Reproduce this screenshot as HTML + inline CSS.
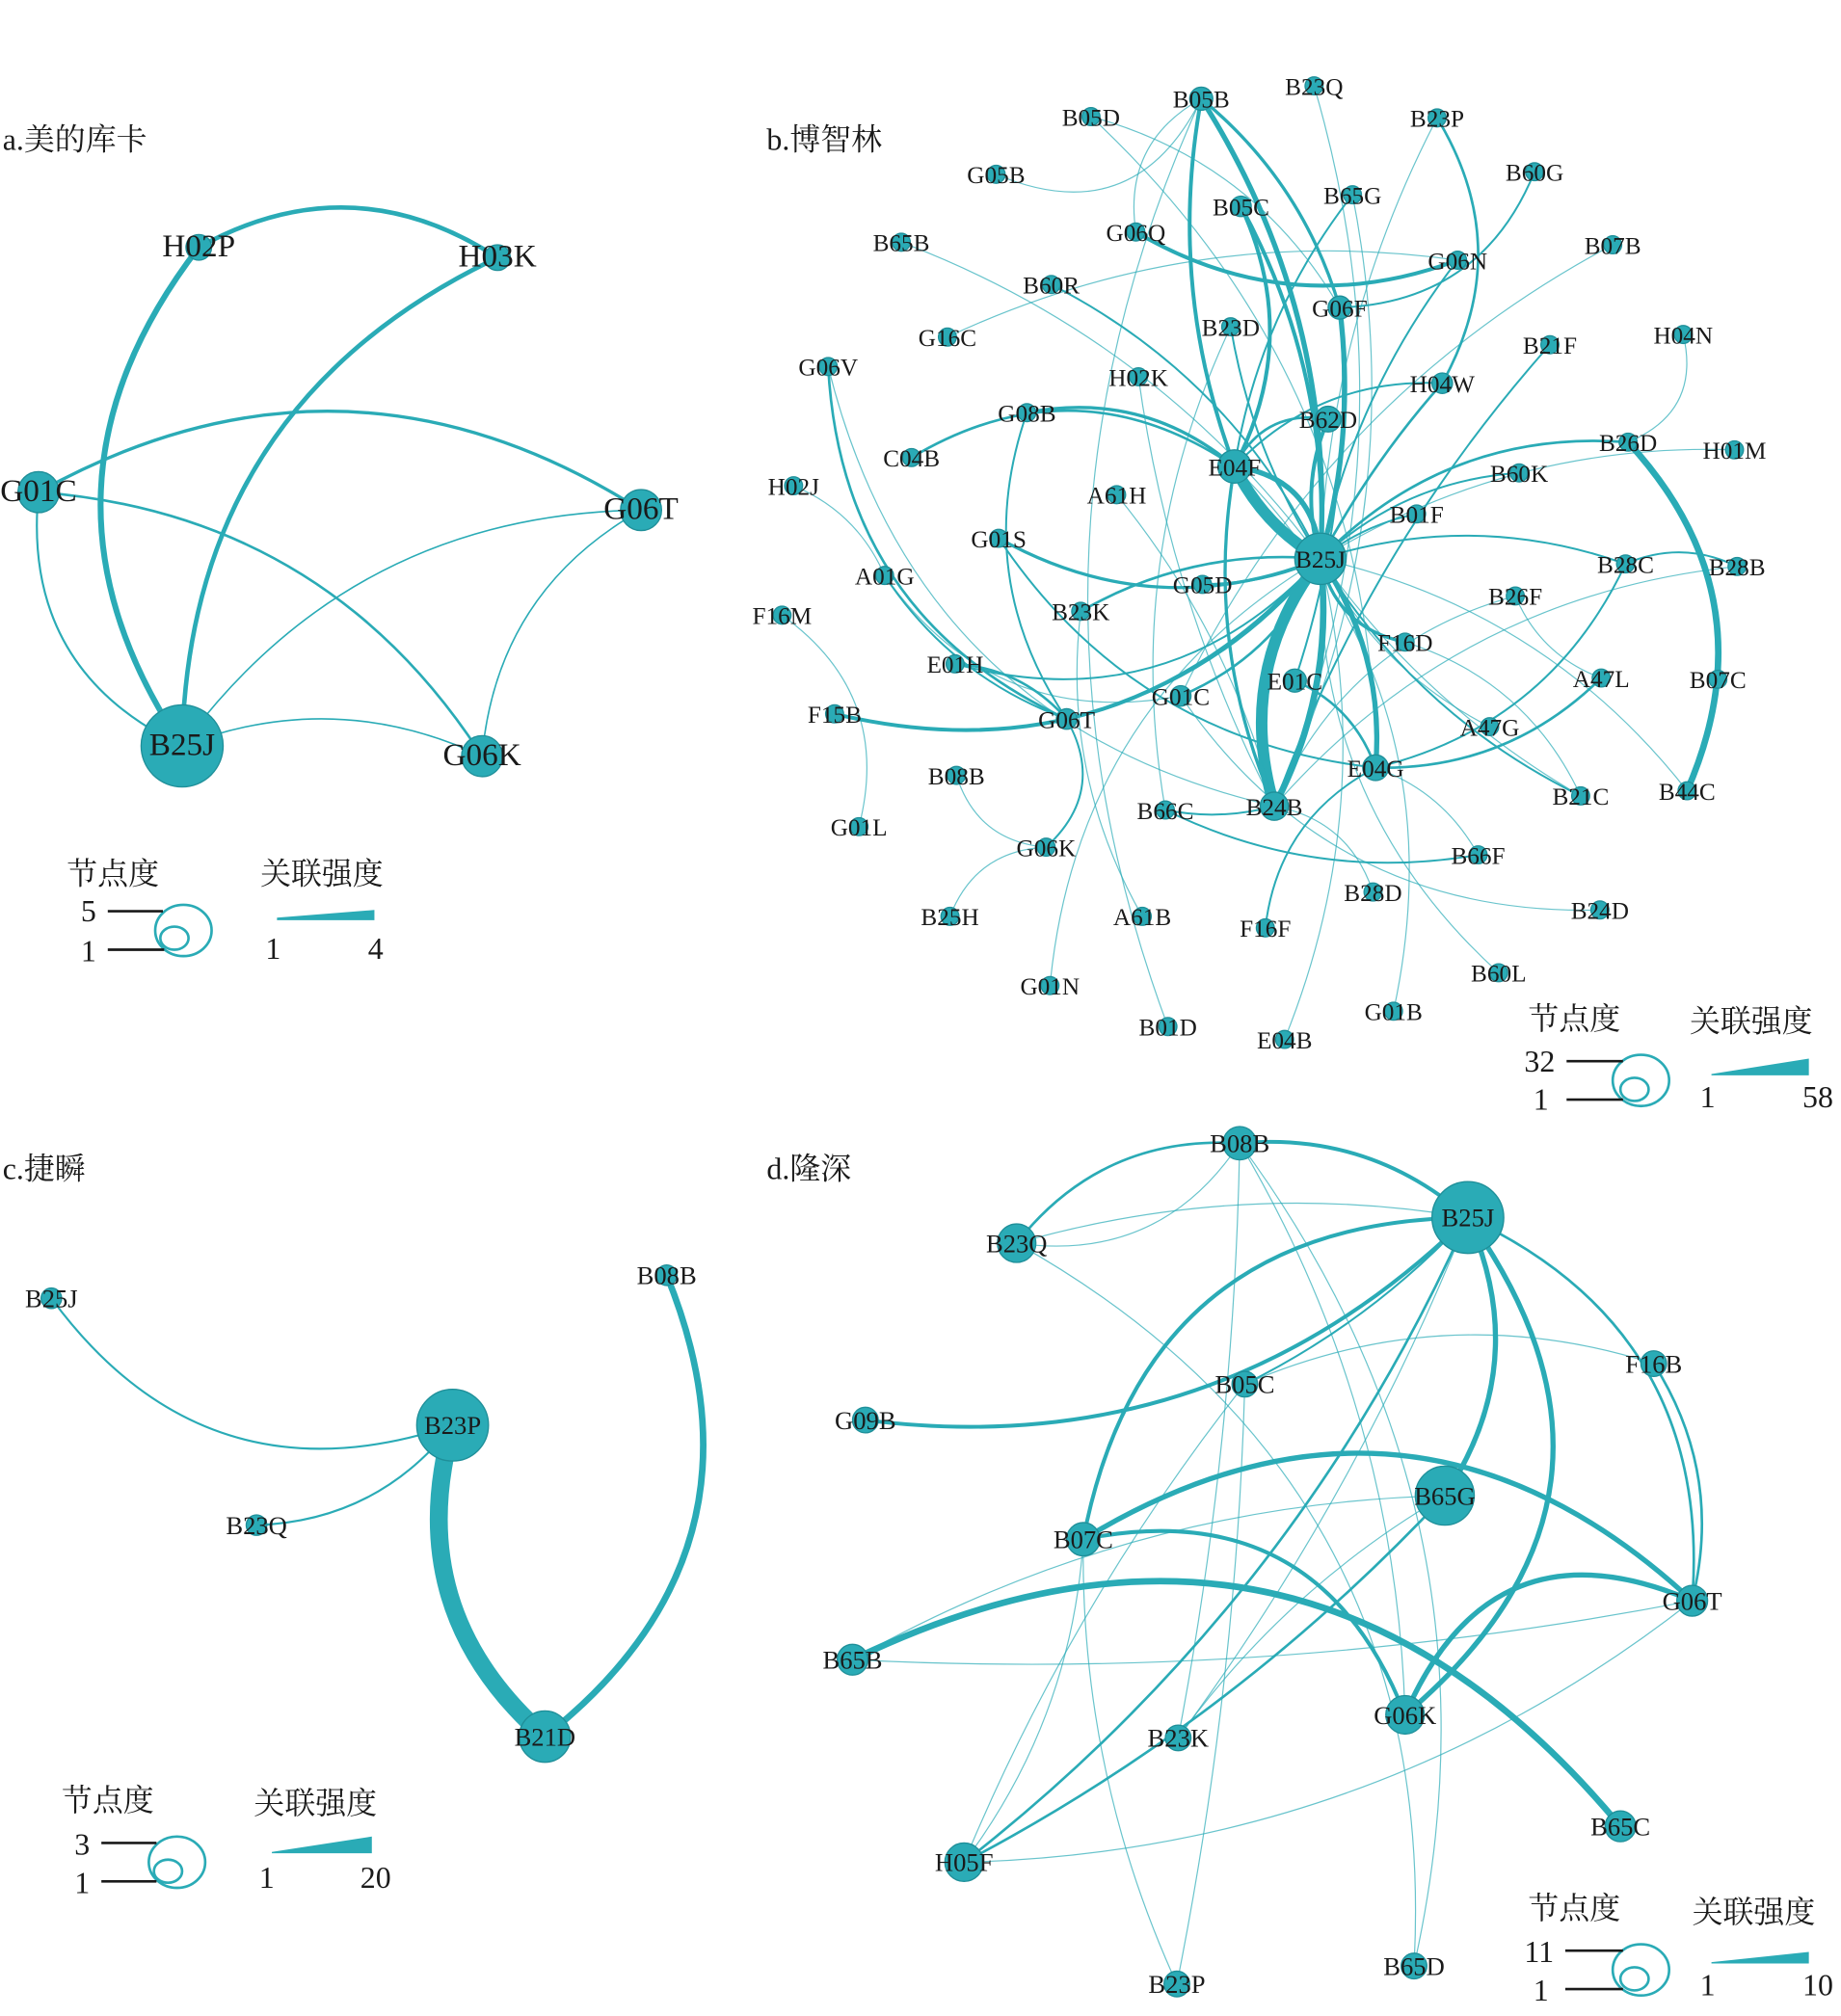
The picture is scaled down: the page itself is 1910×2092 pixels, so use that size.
<!DOCTYPE html>
<html><head><meta charset="utf-8">
<style>
html,body{margin:0;padding:0;background:#fff;}
svg{display:block;}
text{font-family:"Liberation Serif","Noto Serif CJK SC",serif;fill:#1a1a1a;}
.a text.n{font-size:25px;text-anchor:middle;}
.b text.n{font-size:19px;text-anchor:middle;}
.c text.n,.d text.n{font-size:20px;text-anchor:middle;}
.t{font-size:24px;}
.lg{font-size:24px;}
</style></head><body>
<svg id="S" width="1910" height="2092" viewBox="0 0 1436 1573" xmlns="http://www.w3.org/2000/svg">
<g id="E"></g>
<g id="N"></g>
<text class="t" x="2" y="117">a.美的库卡</text>
<text class="t" x="598" y="117">b.博智林</text>
<text class="t" x="2" y="920">c.捷瞬</text>
<text class="t" x="598" y="920">d.隆深</text>

<g class="a" id="a">
<text class="n" x="155" y="200" data-r="10">H02P</text>
<text class="n" x="388" y="208" data-r="10">H03K</text>
<text class="n" x="30" y="391" data-r="16">G01C</text>
<text class="n" x="500" y="405" data-r="16">G06T</text>
<text class="n" x="142" y="589" data-r="32">B25J</text>
<text class="n" x="376" y="597" data-r="16">G06K</text>
</g>

<g class="b" id="b">
<text class="n" x="851" y="98">B05D</text>
<text class="n" x="937" y="84" data-r="9">B05B</text>
<text class="n" x="1025" y="74">B23Q</text>
<text class="n" x="1121" y="99">B23P</text>
<text class="n" x="777" y="143">G05B</text>
<text class="n" x="1197" y="141">B60G</text>
<text class="n" x="968" y="168" data-r="8">B05C</text>
<text class="n" x="1055" y="159">B65G</text>
<text class="n" x="703" y="196">B65B</text>
<text class="n" x="886" y="188">G06Q</text>
<text class="n" x="1258" y="198">B07B</text>
<text class="n" x="1137" y="210">G06N</text>
<text class="n" x="820" y="229">B60R</text>
<text class="n" x="1045" y="247" data-r="9">G06F</text>
<text class="n" x="960" y="262">B23D</text>
<text class="n" x="739" y="270">G16C</text>
<text class="n" x="1313" y="268">H04N</text>
<text class="n" x="1209" y="276">B21F</text>
<text class="n" x="646" y="293">G06V</text>
<text class="n" x="888" y="301">H02K</text>
<text class="n" x="1125" y="306" data-r="8">H04W</text>
<text class="n" x="801" y="329">G08B</text>
<text class="n" x="1036" y="334" data-r="10">B62D</text>
<text class="n" x="1270" y="352">B26D</text>
<text class="n" x="1353" y="358">H01M</text>
<text class="n" x="711" y="364">C04B</text>
<text class="n" x="963" y="371" data-r="13">E04F</text>
<text class="n" x="619" y="386">H02J</text>
<text class="n" x="1185" y="376">B60K</text>
<text class="n" x="871" y="393">A61H</text>
<text class="n" x="1105" y="408">B01F</text>
<text class="n" x="779" y="427">G01S</text>
<text class="n" x="1030" y="443" data-r="20">B25J</text>
<text class="n" x="1268" y="447">B28C</text>
<text class="n" x="1355" y="449">B28B</text>
<text class="n" x="690" y="456">A01G</text>
<text class="n" x="938" y="463">G05D</text>
<text class="n" x="1182" y="472">B26F</text>
<text class="n" x="610" y="487">F16M</text>
<text class="n" x="843" y="484">B23K</text>
<text class="n" x="1096" y="508">F16D</text>
<text class="n" x="745" y="525">E01H</text>
<text class="n" x="1010" y="538" data-r="9">E01C</text>
<text class="n" x="1249" y="536">A47L</text>
<text class="n" x="1340" y="537">B07C</text>
<text class="n" x="921" y="550" data-r="8">G01C</text>
<text class="n" x="651" y="564">F15B</text>
<text class="n" x="832" y="568" data-r="8">G06T</text>
<text class="n" x="1162" y="574">A47G</text>
<text class="n" x="1073" y="606" data-r="10">E04G</text>
<text class="n" x="746" y="612">B08B</text>
<text class="n" x="1233" y="628">B21C</text>
<text class="n" x="1316" y="624">B44C</text>
<text class="n" x="909" y="639">B66C</text>
<text class="n" x="994" y="636" data-r="11">B24B</text>
<text class="n" x="670" y="652">G01L</text>
<text class="n" x="816" y="668">G06K</text>
<text class="n" x="1153" y="674">B66F</text>
<text class="n" x="1071" y="703">B28D</text>
<text class="n" x="741" y="722">B25H</text>
<text class="n" x="891" y="722">A61B</text>
<text class="n" x="987" y="731">F16F</text>
<text class="n" x="1248" y="717">B24D</text>
<text class="n" x="1169" y="766">B60L</text>
<text class="n" x="819" y="776">G01N</text>
<text class="n" x="1087" y="796">G01B</text>
<text class="n" x="911" y="808">B01D</text>
<text class="n" x="1002" y="818">E04B</text>
</g>

<g class="c" id="c">
<text class="n" x="40" y="1020" data-r="8">B25J</text>
<text class="n" x="520" y="1002" data-r="8">B08B</text>
<text class="n" x="353" y="1119" data-r="28">B23P</text>
<text class="n" x="200" y="1197" data-r="8">B23Q</text>
<text class="n" x="425" y="1362" data-r="20">B21D</text>
</g>

<g class="d" id="d">
<text class="n" x="967" y="899" data-r="13">B08B</text>
<text class="n" x="1145" y="957" data-r="28">B25J</text>
<text class="n" x="793" y="977" data-r="15">B23Q</text>
<text class="n" x="1290" y="1071" data-r="10">F16B</text>
<text class="n" x="971" y="1087" data-r="10">B05C</text>
<text class="n" x="675" y="1115" data-r="10">G09B</text>
<text class="n" x="1127" y="1174" data-r="23">B65G</text>
<text class="n" x="845" y="1208" data-r="13">B07C</text>
<text class="n" x="1320" y="1256" data-r="12">G06T</text>
<text class="n" x="665" y="1302" data-r="12">B65B</text>
<text class="n" x="1096" y="1345" data-r="15">G06K</text>
<text class="n" x="919" y="1363" data-r="10">B23K</text>
<text class="n" x="1264" y="1432" data-r="12">B65C</text>
<text class="n" x="752" y="1460" data-r="15">H05F</text>
<text class="n" x="918" y="1555" data-r="10">B23P</text>
<text class="n" x="1103" y="1541" data-r="10">B65D</text>
</g>

<g fill="none" stroke="#2aabb6" stroke-width="2">
<ellipse cx="143" cy="726" rx="22" ry="20"/><ellipse cx="136" cy="732" rx="11" ry="9"/>
<ellipse cx="1280" cy="843" rx="22" ry="20"/><ellipse cx="1275" cy="850" rx="11" ry="9"/>
<ellipse cx="138" cy="1453" rx="22" ry="20"/><ellipse cx="131" cy="1460" rx="11" ry="9"/>
<ellipse cx="1280" cy="1537" rx="22" ry="20"/><ellipse cx="1275" cy="1544" rx="11" ry="9"/>
</g>
<g stroke="#1a1a1a" stroke-width="2">
<line x1="84" y1="711" x2="127" y2="711"/><line x1="84" y1="741" x2="128" y2="741"/>
<line x1="1222" y1="828" x2="1266" y2="828"/><line x1="1222" y1="858" x2="1266" y2="858"/>
<line x1="79" y1="1438" x2="122" y2="1438"/><line x1="79" y1="1468" x2="122" y2="1468"/>
<line x1="1221" y1="1522" x2="1266" y2="1522"/><line x1="1221" y1="1552" x2="1266" y2="1552"/>
</g>
<g fill="#2aabb6">
<polygon points="216,716 292,710 292,718 216,718"/>
<polygon points="1335,838 1411,826 1411,839 1335,839"/>
<polygon points="212,1445 290,1433 290,1446 212,1446"/>
<polygon points="1335,1531 1411,1523 1411,1532 1335,1532"/>
</g>
<g class="lg">
<text x="52" y="690">节点度</text><text x="203" y="690">关联强度</text>
<text x="63" y="719">5</text><text x="63" y="750">1</text>
<text x="207" y="748">1</text><text x="287" y="748">4</text>
<text x="1192" y="803">节点度</text><text x="1318" y="805">关联强度</text>
<text x="1189" y="836">32</text><text x="1196" y="866">1</text>
<text x="1326" y="864">1</text><text x="1406" y="864">58</text>
<text x="48" y="1413">节点度</text><text x="198" y="1415">关联强度</text>
<text x="58" y="1447">3</text><text x="58" y="1477">1</text>
<text x="202" y="1473">1</text><text x="281" y="1473">20</text>
<text x="1192" y="1497">节点度</text><text x="1320" y="1500">关联强度</text>
<text x="1189" y="1531">11</text><text x="1196" y="1561">1</text>
<text x="1326" y="1557">1</text><text x="1406" y="1557">10</text>
</g>
</svg>
<script>
(function(){
var NS="http://www.w3.org/2000/svg";
var E=document.getElementById("E"),N=document.getElementById("N");
var pos={};
["a","b","c","d"].forEach(function(p){
  var g=document.getElementById(p);
  var ts=g.querySelectorAll("text.n");
  for(var i=0;i<ts.length;i++){
    var t=ts[i];var x=+t.getAttribute("x"),y=+t.getAttribute("y")-7;
    var r=+(t.getAttribute("data-r")||7);
    pos[p+":"+t.textContent]=[x,y];
    var c=document.createElementNS(NS,"circle");
    c.setAttribute("cx",x);c.setAttribute("cy",y);c.setAttribute("r",r);
    c.setAttribute("fill","#2aabb6");c.setAttribute("stroke","#1f8f99");c.setAttribute("stroke-width","1");
    N.appendChild(c);
  }
});
var edges={
a:["H02P B25J 4.5 140","H03K B25J 3.5 140","H02P H03K 3.5 -70","G01C G06T 2.5 -140","G01C G06K 2 -100","G01C B25J 1.6 80","G06T B25J 1.2 100","G06T G06K 1.2 60","B25J G06K 1.2 -50"],
b:["E04F B25J 9 15","E04F B25J 4 -40","B25J B24B 9 50","B25J B24B 5 -30","B05B B25J 4 -60","B05B E04F 3 40","B05C E04F 3 -50","B05C B25J 3 -40","G06F B25J 4 -20","B05B G06F 2.5 -30","B62D B25J 3 20","F15B B25J 3 120","G06Q G06N 3 60","G08B E04F 2.5 -40","G01S B25J 2.5 60","B26D B44C 5 -90","B25J E04G 4 -30","B25J F16D 2.5 30","B25J B28C 1.5 -40","B28C B28B 1.5 -20","B23P H04W 2 -60","B60G G06F 1.5 -60","G06V G06T 2 100","E01H G06T 2 -20","A01G G06T 1.5 30","F16M G01L 1 -60","E04G A47L 2 40","B25H G06K 1 -30","E04F B24B 2.5 40","E01C E04G 2 -20","B24B B66C 1.5 -10","B66C B66F 1.5 40","G06T B25J 2 40","G06K G06T 1.5 40","B23K B25J 2 -30","G05D B25J 2 10","G01C B25J 2 30","B60K B25J 1.5 30","B01F B25J 1.5 10","B26D B25J 2 60","H04W B25J 2 10","B21F B24B 1.5 40","G06N B25J 1.5 30","E04F H04W 1.5 -40","C04B E04F 2 -80","G08B G06T 1.5 60","G05B B05B 1 80","G16C G06N 1 -60","B60R B25J 1.5 -50","H02K B24B 1 30","A61H B24B 1 -30","B23D B25J 1.5 20","B65G E04F 1.5 30","B05D G06F 1 -50","B07B G01C 1 80","H04N B26D 1 -40","B26F A47L 1 20","F16D B21C 1 -40","G01N B25J 1 -100","G01B E04F 1 120","E04B B25J 1 60","B01D B05B 1 -150","F16F E04G 1.5 -40","B28D B24B 1 30","B24D G01C 1 -100","B60L B25J 1 -80","A61B B23K 1 -40","B08B G06K 1 30","B66F E04G 1 20","B21C B25J 1 -30","B44C B25J 1 60","B28B B24B 1 80","H01M B25J 1 50","A47G B25J 1 -30","E04G B28C 1.5 60","G06Q B05B 1 -40","B23Q B24B 1 -100","B23P B25J 1 40","H02J A01G 1 -20","B65B B25J 1 -60","G06V B24B 1 150","B05D E04G 1 -120","G01S E04G 1.5 80","B62D E04F 2 30","B26F B24B 1 60","B25J B21C 1.5 40","B23D B66C 1 60","G06F E01C 1.5 -30","B65G B24B 1 -80","E01H B25J 1.5 90","A01G G01C 1 80"],
c:["B25J B23P 1.6 120","B23Q B23P 1.6 40","B23P B21D 14 80","B08B B21D 5 -140"],
d:["B65B B65C 5 -240","B07C G06T 4 -180","B25J B65G 4 -60","B25J G06K 4 -180","G06K G06T 4 -120","G09B B25J 3 120","B07C B25J 3 -160","B08B B25J 3 -40","B23Q B08B 2 -50","B23Q B08B 1 60","B25J G06T 2 -120","F16B G06T 2 -40","B07C G06K 3 -120","B65B B65G 1 -60","H05F B25J 2 80","H05F B65G 2 40","H05F B05C 1 -30","H05F B07C 1 40","B23K B25J 1 30","B23K B08B 1 20","B23P B07C 1 -40","B23P B05C 1 20","B65D B08B 1 150","B65D B23Q 1 200","B23Q B25J 1 -40","B05C F16B 1 -60","B05C B25J 1.5 20","B65B G06T 1 40","G06K B08B 1 60","H05F G06T 1 100","B23K B65G 1 -30"]
};
for(var p in edges){edges[p].forEach(function(s){
  var f=s.split(" ");var A=pos[p+":"+f[0]],B=pos[p+":"+f[1]];if(!A||!B)return;
  var w=+f[2],o=+f[3];var dx=B[0]-A[0],dy=B[1]-A[1],L=Math.sqrt(dx*dx+dy*dy)||1;
  var cx=(A[0]+B[0])/2+o*(-dy)/L,cy=(A[1]+B[1])/2+o*dx/L;
  var pa=document.createElementNS(NS,"path");
  pa.setAttribute("d","M"+A[0]+","+A[1]+" Q"+cx+","+cy+" "+B[0]+","+B[1]);
  pa.setAttribute("fill","none");pa.setAttribute("stroke","#2aabb6");
  pa.setAttribute("stroke-width",w<=1?0.9:w);
  if(w<=1)pa.setAttribute("stroke-opacity","0.7");
  E.appendChild(pa);
});}
})();
</script>
</body></html>
